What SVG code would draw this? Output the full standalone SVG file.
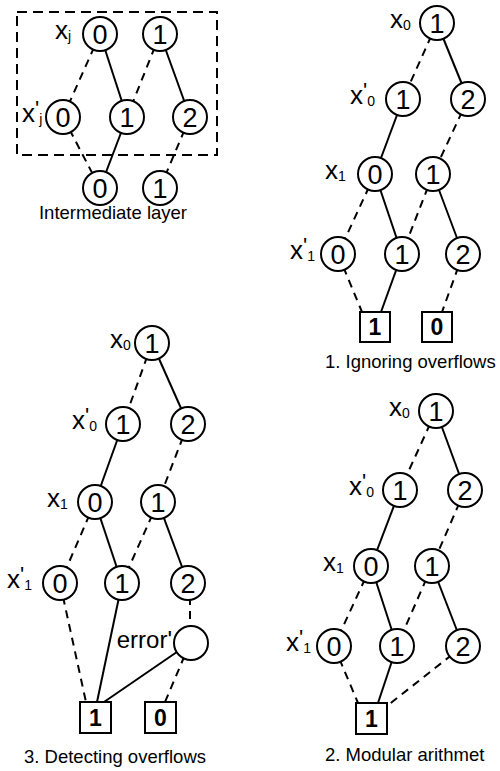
<svg xmlns="http://www.w3.org/2000/svg" width="500" height="771" viewBox="0 0 500 771">
<style>
.n circle{fill:#fff;stroke:#000;stroke-width:2}
.n rect{fill:#fff;stroke:#000;stroke-width:2}
.d{font-family:"Liberation Sans",Arial,sans-serif;font-size:27px;text-anchor:middle}
.b{font-family:"Liberation Sans",Arial,sans-serif;font-size:23px;font-weight:bold;text-anchor:middle}
.l{font-family:"Liberation Sans",Arial,sans-serif;font-size:26px}
.s{font-size:14px}
.p{font-size:22px}
.t{font-family:"Liberation Sans",Arial,sans-serif;font-size:18.5px}
.e line{stroke:#000;stroke-width:2}
.e .ds{stroke-dasharray:8,6}
</style>
<rect x="17" y="12" width="200" height="143" fill="none" stroke="#000" stroke-width="2" stroke-dasharray="10,6"/>
<g id="connectors" class="e">
<line class="ds" x1="100" y1="34" x2="63" y2="117"/>
<line x1="100" y1="34" x2="127" y2="117"/>
<line class="ds" x1="160" y1="34" x2="127" y2="117"/>
<line x1="160" y1="34" x2="190" y2="117"/>
<line class="ds" x1="63" y1="117" x2="100" y2="188"/>
<line x1="127" y1="117" x2="100" y2="188"/>
<line class="ds" x1="190" y1="117" x2="160" y2="188"/>
<line class="ds" x1="437" y1="23" x2="403" y2="99"/>
<line x1="437" y1="23" x2="468" y2="99"/>
<line x1="403" y1="99" x2="375" y2="174"/>
<line class="ds" x1="468" y1="99" x2="433" y2="174"/>
<line class="ds" x1="375" y1="174" x2="338" y2="254"/>
<line x1="375" y1="174" x2="402" y2="254"/>
<line class="ds" x1="433" y1="174" x2="402" y2="254"/>
<line x1="433" y1="174" x2="463" y2="254"/>
<line class="ds" x1="338" y1="254" x2="362" y2="312"/>
<line x1="402" y1="254" x2="381" y2="312"/>
<line class="ds" x1="463" y1="254" x2="442" y2="312"/>
<line class="ds" x1="152" y1="343" x2="123" y2="424"/>
<line x1="152" y1="343" x2="188" y2="424"/>
<line x1="123" y1="424" x2="95" y2="502"/>
<line class="ds" x1="188" y1="424" x2="158" y2="502"/>
<line class="ds" x1="95" y1="502" x2="60" y2="583"/>
<line x1="95" y1="502" x2="122" y2="583"/>
<line class="ds" x1="158" y1="502" x2="122" y2="583"/>
<line x1="158" y1="502" x2="188" y2="583"/>
<line class="ds" x1="60" y1="583" x2="86" y2="702"/>
<line x1="122" y1="583" x2="97" y2="702"/>
<line class="ds" x1="190" y1="583" x2="190" y2="643"/>
<line x1="190" y1="643" x2="104" y2="702"/>
<line class="ds" x1="190" y1="643" x2="165" y2="702"/>
<line class="ds" x1="436" y1="411" x2="400" y2="490"/>
<line x1="436" y1="411" x2="465" y2="490"/>
<line x1="400" y1="490" x2="371" y2="566"/>
<line class="ds" x1="465" y1="490" x2="432" y2="566"/>
<line class="ds" x1="371" y1="566" x2="334" y2="646"/>
<line x1="371" y1="566" x2="397" y2="646"/>
<line class="ds" x1="432" y1="566" x2="397" y2="646"/>
<line x1="432" y1="566" x2="463" y2="646"/>
<line class="ds" x1="334" y1="646" x2="358" y2="703"/>
<line x1="397" y1="646" x2="378" y2="703"/>
<line class="ds" x1="463" y1="646" x2="387" y2="706"/>
</g>
<g id="il-a0" class="n"><circle cx="100" cy="34" r="17"/><text class="d" x="100" y="44">0</text></g>
<g id="il-a1" class="n"><circle cx="160" cy="34" r="17"/><text class="d" x="160" y="44">1</text></g>
<g id="il-b0" class="n"><circle cx="63" cy="117" r="17"/><text class="d" x="63" y="127">0</text></g>
<g id="il-b1" class="n"><circle cx="127" cy="117" r="17"/><text class="d" x="127" y="127">1</text></g>
<g id="il-b2" class="n"><circle cx="190" cy="117" r="17"/><text class="d" x="190" y="127">2</text></g>
<g id="il-c0" class="n"><circle cx="100" cy="188" r="17"/><text class="d" x="100" y="198">0</text></g>
<g id="il-c1" class="n"><circle cx="160" cy="188" r="17"/><text class="d" x="160" y="198">1</text></g>
<g id="il-labels">
<text class="l" x="55" y="39">x<tspan class="s" dy="2">j</tspan></text>
<text class="l" x="22" y="122">x<tspan class="p" dy="-6">'</tspan><tspan class="s" dy="8">j</tspan></text>
<text class="t" x="113" y="219" text-anchor="middle">Intermediate layer</text>
</g>
<g id="p1-x0" class="n"><circle cx="437" cy="23" r="17"/><text class="d" x="437" y="33">1</text></g>
<g id="p1-q1" class="n"><circle cx="403" cy="99" r="17"/><text class="d" x="403" y="109">1</text></g>
<g id="p1-q2" class="n"><circle cx="468" cy="99" r="17"/><text class="d" x="468" y="109">2</text></g>
<g id="p1-r0" class="n"><circle cx="375" cy="174" r="17"/><text class="d" x="375" y="184">0</text></g>
<g id="p1-r1" class="n"><circle cx="433" cy="174" r="17"/><text class="d" x="433" y="184">1</text></g>
<g id="p1-s0" class="n"><circle cx="338" cy="254" r="17"/><text class="d" x="338" y="264">0</text></g>
<g id="p1-s1" class="n"><circle cx="402" cy="254" r="17"/><text class="d" x="402" y="264">1</text></g>
<g id="p1-s2" class="n"><circle cx="463" cy="254" r="17"/><text class="d" x="463" y="264">2</text></g>
<g id="p1-t1" class="n"><rect x="360" y="312" width="30" height="30"/><text class="b" x="375" y="335">1</text></g>
<g id="p1-t0" class="n"><rect x="422" y="312" width="30" height="30"/><text class="b" x="437" y="335">0</text></g>
<g id="p1-labels">
<text class="l" x="390" y="28">x<tspan class="s" dy="2">0</tspan></text>
<text class="l" x="350" y="104">x<tspan class="p" dy="-6">'</tspan><tspan class="s" dy="8">0</tspan></text>
<text class="l" x="325" y="179">x<tspan class="s" dy="2">1</tspan></text>
<text class="l" x="290" y="259">x<tspan class="p" dy="-6">'</tspan><tspan class="s" dy="8">1</tspan></text>
<text class="t" x="325" y="368">1. Ignoring overflows</text>
</g>
<g id="p3-x0" class="n"><circle cx="152" cy="343" r="17"/><text class="d" x="152" y="353">1</text></g>
<g id="p3-q1" class="n"><circle cx="123" cy="424" r="17"/><text class="d" x="123" y="434">1</text></g>
<g id="p3-q2" class="n"><circle cx="188" cy="424" r="17"/><text class="d" x="188" y="434">2</text></g>
<g id="p3-r0" class="n"><circle cx="95" cy="502" r="17"/><text class="d" x="95" y="512">0</text></g>
<g id="p3-r1" class="n"><circle cx="158" cy="502" r="17"/><text class="d" x="158" y="512">1</text></g>
<g id="p3-s0" class="n"><circle cx="60" cy="583" r="17"/><text class="d" x="60" y="593">0</text></g>
<g id="p3-s1" class="n"><circle cx="122" cy="583" r="17"/><text class="d" x="122" y="593">1</text></g>
<g id="p3-s2" class="n"><circle cx="188" cy="583" r="17"/><text class="d" x="188" y="593">2</text></g>
<g id="p3-err" class="n"><circle cx="191" cy="643" r="17"/></g>
<g id="p3-t1" class="n"><rect x="80" y="702" width="31" height="31"/><text class="b" x="95.5" y="726">1</text></g>
<g id="p3-t0" class="n"><rect x="145" y="702" width="31" height="31"/><text class="b" x="160.5" y="726">0</text></g>
<g id="p3-labels">
<text class="l" x="110" y="348">x<tspan class="s" dy="2">0</tspan></text>
<text class="l" x="72" y="429">x<tspan class="p" dy="-6">'</tspan><tspan class="s" dy="8">0</tspan></text>
<text class="l" x="47" y="507">x<tspan class="s" dy="2">1</tspan></text>
<text class="l" x="7" y="588">x<tspan class="p" dy="-6">'</tspan><tspan class="s" dy="8">1</tspan></text>
<text class="l" x="172" y="648" text-anchor="end" style="font-size:24px">error'</text>
<text class="t" x="115" y="763" text-anchor="middle">3. Detecting overflows</text>
</g>
<g id="p2-x0" class="n"><circle cx="436" cy="411" r="17"/><text class="d" x="436" y="421">1</text></g>
<g id="p2-q1" class="n"><circle cx="400" cy="490" r="17"/><text class="d" x="400" y="500">1</text></g>
<g id="p2-q2" class="n"><circle cx="465" cy="490" r="17"/><text class="d" x="465" y="500">2</text></g>
<g id="p2-r0" class="n"><circle cx="371" cy="566" r="17"/><text class="d" x="371" y="576">0</text></g>
<g id="p2-r1" class="n"><circle cx="432" cy="566" r="17"/><text class="d" x="432" y="576">1</text></g>
<g id="p2-s0" class="n"><circle cx="334" cy="646" r="17"/><text class="d" x="334" y="656">0</text></g>
<g id="p2-s1" class="n"><circle cx="397" cy="646" r="17"/><text class="d" x="397" y="656">1</text></g>
<g id="p2-s2" class="n"><circle cx="463" cy="646" r="17"/><text class="d" x="463" y="656">2</text></g>
<g id="p2-t1" class="n"><rect x="356" y="703" width="31" height="31"/><text class="b" x="371.5" y="727">1</text></g>
<g id="p2-labels">
<text class="l" x="389" y="416">x<tspan class="s" dy="2">0</tspan></text>
<text class="l" x="349" y="495">x<tspan class="p" dy="-6">'</tspan><tspan class="s" dy="8">0</tspan></text>
<text class="l" x="323" y="571">x<tspan class="s" dy="2">1</tspan></text>
<text class="l" x="286" y="651">x<tspan class="p" dy="-6">'</tspan><tspan class="s" dy="8">1</tspan></text>
<text class="t" x="325" y="761">2. Modular arithmet</text>
</g>
</svg>
